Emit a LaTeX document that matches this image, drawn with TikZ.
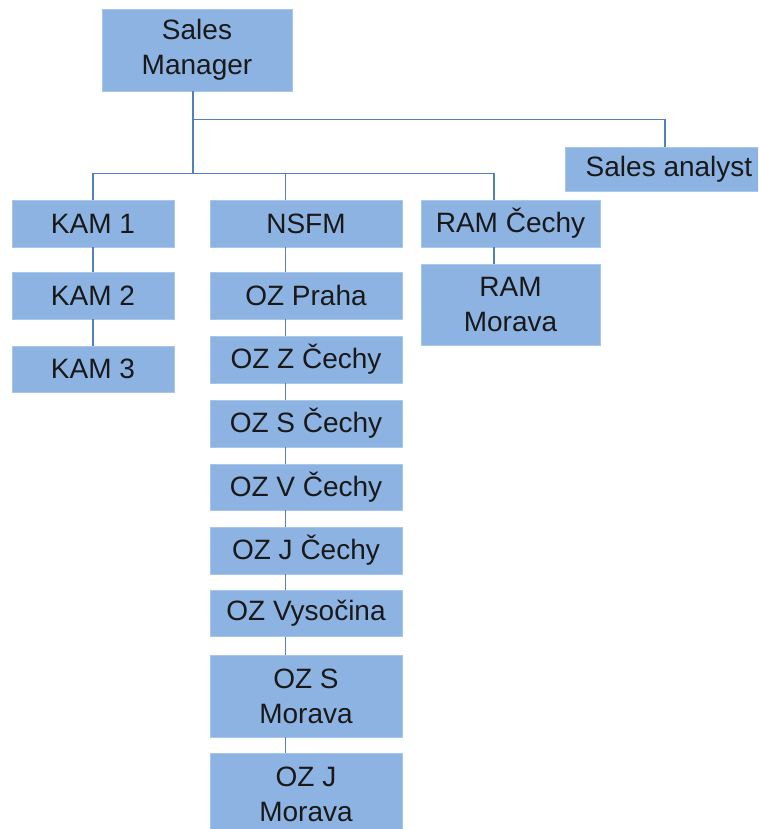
\documentclass[tikz,border=0pt]{standalone}
\usepackage{fontspec}
\setmainfont{Liberation Sans}
\definecolor{boxfill}{HTML}{8DB3E2}
\definecolor{boxedge}{HTML}{A8C5EA}
\definecolor{linec}{HTML}{4F81BD}
\tikzset{
  unit/.style={rectangle, fill=boxfill, draw=boxedge, line width=0.8pt, inner sep=0pt,
    align=center, font=\fontsize{28}{35}\selectfont, text=black!90},
  conn/.style={draw=linec, line width=1.5pt},
}
\begin{document}
\begin{tikzpicture}[x=1pt,y=-1pt]
\clip (0,0) rectangle (758,829);
\fill[white] (0,0) rectangle (758,829);
% top
\node[unit, minimum width=190, minimum height=82] (sm) at (197,50) {Sales\\Manager};
\node[unit, minimum width=208, minimum height=44] (sa) at (669,169) {Sales analyst};
% KAM column
\node[unit, minimum width=162, minimum height=47] (kam1) at (93,223.5) {KAM 1};
\node[unit, minimum width=162, minimum height=47] (kam2) at (93,295.5) {KAM 2};
\node[unit, minimum width=162, minimum height=46] (kam3) at (93,369) {KAM 3};
% NSFM column
\node[unit, minimum width=192, minimum height=47] (nsfm) at (306,223.5) {NSFM};
\node[unit, minimum width=192, minimum height=47] (praha) at (306,295.5) {OZ Praha};
\node[unit, minimum width=192, minimum height=47] (zc) at (306,359.5) {OZ Z Čechy};
\node[unit, minimum width=192, minimum height=47] (sc) at (306,423.5) {OZ S Čechy};
\node[unit, minimum width=192, minimum height=46] (vc) at (306,487) {OZ V Čechy};
\node[unit, minimum width=192, minimum height=47] (jc) at (306,550.5) {OZ J Čechy};
\node[unit, minimum width=192, minimum height=46] (vys) at (306,613.5) {OZ Vysočina};
\node[unit, minimum width=192, minimum height=82] (smor) at (306,696) {OZ S\\Morava};
\node[unit, minimum width=192, minimum height=82] (jmor) at (306,794) {OZ J\\Morava};
% RAM column
\node[unit, minimum width=179, minimum height=47] (ram1) at (510.5,223.5) {RAM Čechy};
\node[unit, minimum width=179, minimum height=81] (ram2) at (510.5,304.5) {RAM\\Morava};
% connectors
\draw[conn] ([xshift=-4]sm.south) -- ++(0,83);
\draw[conn] ([xshift=-4]sm.south) ++(0,28) -| ([xshift=-4]sa.north);
\draw[conn] (kam1.north) -- ++(0,-26) -| ([xshift=-16.5]ram1.north);
\draw[conn] ([xshift=-20.5]nsfm.north) -- ++(0,-26);
\draw[conn] (kam1.south) -- (kam2.north);
\draw[conn] (kam2.south) -- (kam3.north);
\foreach \a/\b in {nsfm/praha, praha/zc, zc/sc, sc/vc, vc/jc, jc/vys, vys/smor, smor/jmor}
  \draw[conn] ([xshift=-20.5]\a.south) -- ([xshift=-20.5]\b.north);
\draw[conn] ([xshift=-16.5]ram1.south) -- ([xshift=-16.5]ram2.north);
\end{tikzpicture}
\end{document}
